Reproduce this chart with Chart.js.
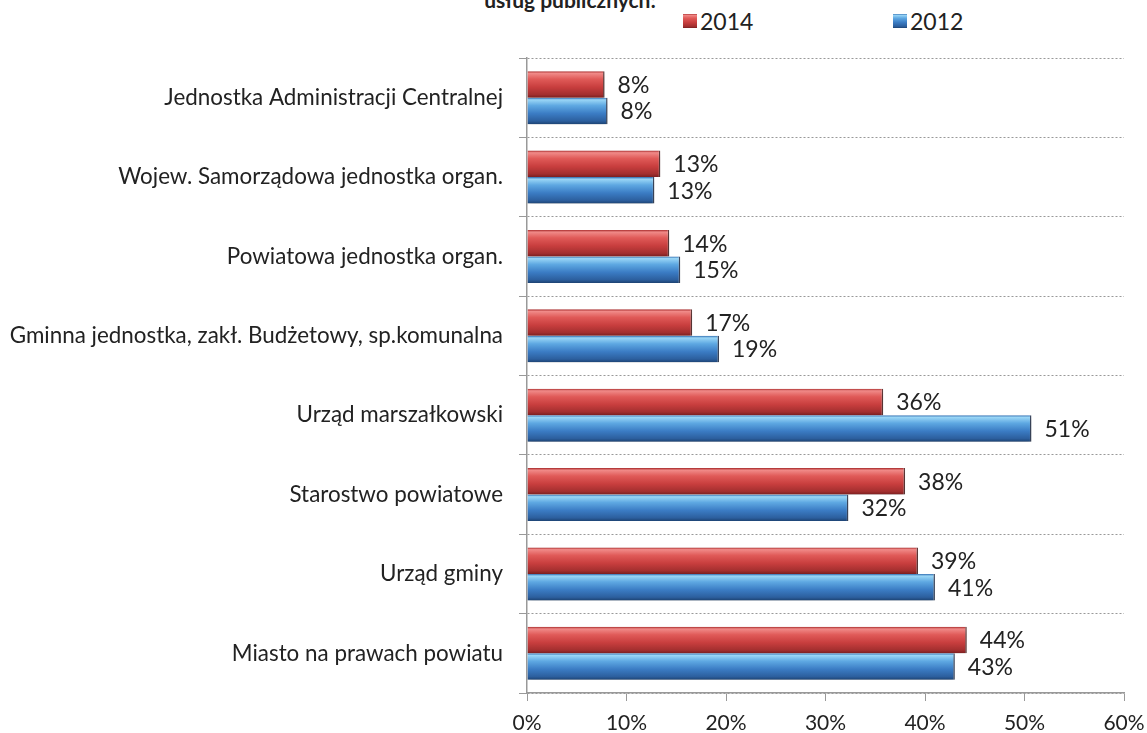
<!DOCTYPE html>
<html>
<head>
<meta charset="utf-8">
<script src="https://cdn.jsdelivr.net/npm/chart.js@4.4.1/dist/chart.umd.min.js"></script>
<style>
    body { margin: 0; background: #fff; }
    #wrap { position: relative; width: 1147px; height: 733px; overflow: hidden; font-family: Lato, 'Open Sans', sans-serif; color: #222; }
    #title { position: absolute; top: -12px; left: 370px; width: 400px; text-align: center; font-weight: bold; font-size: 21px; line-height: 24px; }
    #legend { position: absolute; top: 8px; left: 683px; display: flex; }
    .item { display: flex; align-items: center; width: 210px; font-size: 23px; line-height: 26px; }
    .box { width: 14px; height: 14px; margin-right: 3px; }
    canvas { position: absolute; left: 0; top: 0; }
</style>
</head>
<body>
<div id="wrap">
    <div id="title">usług publicznych:</div>
    <div id="legend"></div>
    <canvas id="chart" width="1147" height="733"></canvas>
</div>
<script>
// data
const categories = [
    'Jednostka Administracji Centralnej',
    'Wojew. Samorządowa jednostka organ.',
    'Powiatowa jednostka organ.',
    'Gminna jednostka, zakł. Budżetowy, sp.komunalna',
    'Urząd marszałkowski',
    'Starostwo powiatowe',
    'Urząd gminy',
    'Miasto na prawach powiatu'
];
const seriesNames = ['2014', '2012'];
const values2014 = [7.8, 13.4, 14.3, 16.6, 35.8, 38.0, 39.3, 44.2];
const values2012 = [8.1, 12.8, 15.4, 19.3, 50.7, 32.3, 41.0, 43.0];
const xTicks = [0, 10, 20, 30, 40, 50, 60];

const redStops = [[0, '#a82a2b'], [0.08, '#f08a88'], [0.3, '#e05a58'], [0.6, '#c83e3e'], [0.88, '#a32f2f'], [1, '#7a1f20']];
const blueStops = [[0, '#2f6cb0'], [0.08, '#9ad6f6'], [0.3, '#5ea8e2'], [0.6, '#3b7cc4'], [0.88, '#2c5f9e'], [1, '#1d4373']];
const catPct = 0.667;
const fontFamily = 'Lato, "Open Sans", sans-serif';

function barFill(stops) {
    return (ctx) => {
        const chart = ctx.chart;
        const y = chart.scales.y;
        if (ctx.type !== 'data' || !y || !y.height) return stops[3][1];
        const barH = y.height / categories.length * catPct / 2;
        const c = y.getPixelForTick(ctx.dataIndex);
        const top = ctx.datasetIndex === 0 ? c - barH : c;
        const g = chart.ctx.createLinearGradient(0, top, 0, top + barH);
        stops.forEach(s => g.addColorStop(s[0], s[1]));
        return g;
    };
}

// legend in html
const legend = document.querySelector('#legend');
[redStops, blueStops].forEach((stops, i) => {
    const item = document.createElement('div');
    item.className = 'item';
    const box = document.createElement('span');
    box.className = 'box';
    box.style.background = 'linear-gradient(' + stops.map(s => s[1] + ' ' + (s[0] * 100) + '%').join(',') + ')';
    item.appendChild(box);
    item.appendChild(document.createTextNode(seriesNames[i]));
    legend.appendChild(item);
});

// shadow under bars + value labels
const barExtras = {
    id: 'barExtras',
    beforeDatasetsDraw(chart) {
        const ctx = chart.ctx;
        ctx.save();
        ctx.shadowColor = 'rgba(0,0,0,0.3)';
        ctx.shadowOffsetY = 4;
        ctx.shadowBlur = 5;
    },
    afterDatasetsDraw(chart) {
        const ctx = chart.ctx;
        ctx.restore();
        ctx.save();
        ctx.font = '23px ' + fontFamily;
        ctx.fillStyle = '#222';
        ctx.textBaseline = 'middle';
        chart.data.datasets.forEach((ds, di) => {
            chart.getDatasetMeta(di).data.forEach((bar, i) => {
                ctx.fillText(Math.round(ds.data[i]) + '%', bar.x + 13, bar.y + 1);
            });
        });
        ctx.restore();
    }
};

new Chart(document.querySelector('#chart'), {
    type: 'bar',
    data: {
        labels: categories,
        datasets: [
            {
                label: seriesNames[0],
                data: values2014,
                backgroundColor: barFill(redStops),
                borderColor: 'rgba(60,10,10,0.8)',
                borderWidth: { right: 1.5 },
                borderSkipped: false
            },
            {
                label: seriesNames[1],
                data: values2012,
                backgroundColor: barFill(blueStops),
                borderColor: 'rgba(15,30,60,0.8)',
                borderWidth: { right: 1.5 },
                borderSkipped: false
            }
        ]
    },
    options: {
        indexAxis: 'y',
        responsive: false,
        animation: false,
        devicePixelRatio: 1,
        categoryPercentage: catPct,
        barPercentage: 1,
        layout: { padding: { top: 58, right: 23, bottom: 0, left: 0 } },
        plugins: {
            legend: { display: false },
            tooltip: { enabled: false }
        },
        scales: {
            x: {
                min: 0,
                max: 60,
                afterBuildTicks(scale) { scale.ticks = xTicks.map(v => ({ value: v })); },
                afterFit(scale) {
                    scale.height = 40;
                    scale.paddingLeft = 0;
                    scale.paddingRight = 0;
                },
                grid: { drawOnChartArea: false, color: '#999', tickLength: 8 },
                border: { color: '#999', width: 1.5 },
                ticks: {
                    color: '#222',
                    padding: 10,
                    font: { family: fontFamily, size: 21 },
                    callback: v => v + '%'
                }
            },
            y: {
                offset: true,
                afterFit(scale) { scale.width = 527; },
                grid: { offset: true, color: '#999', tickLength: 8 },
                border: { color: '#999', width: 1.5, dash: [2, 2] },
                ticks: {
                    color: '#222',
                    padding: 16,
                    font: { family: fontFamily, size: 22.4 }
                }
            }
        }
    },
    plugins: [barExtras]
});
</script>
</body>
</html>
